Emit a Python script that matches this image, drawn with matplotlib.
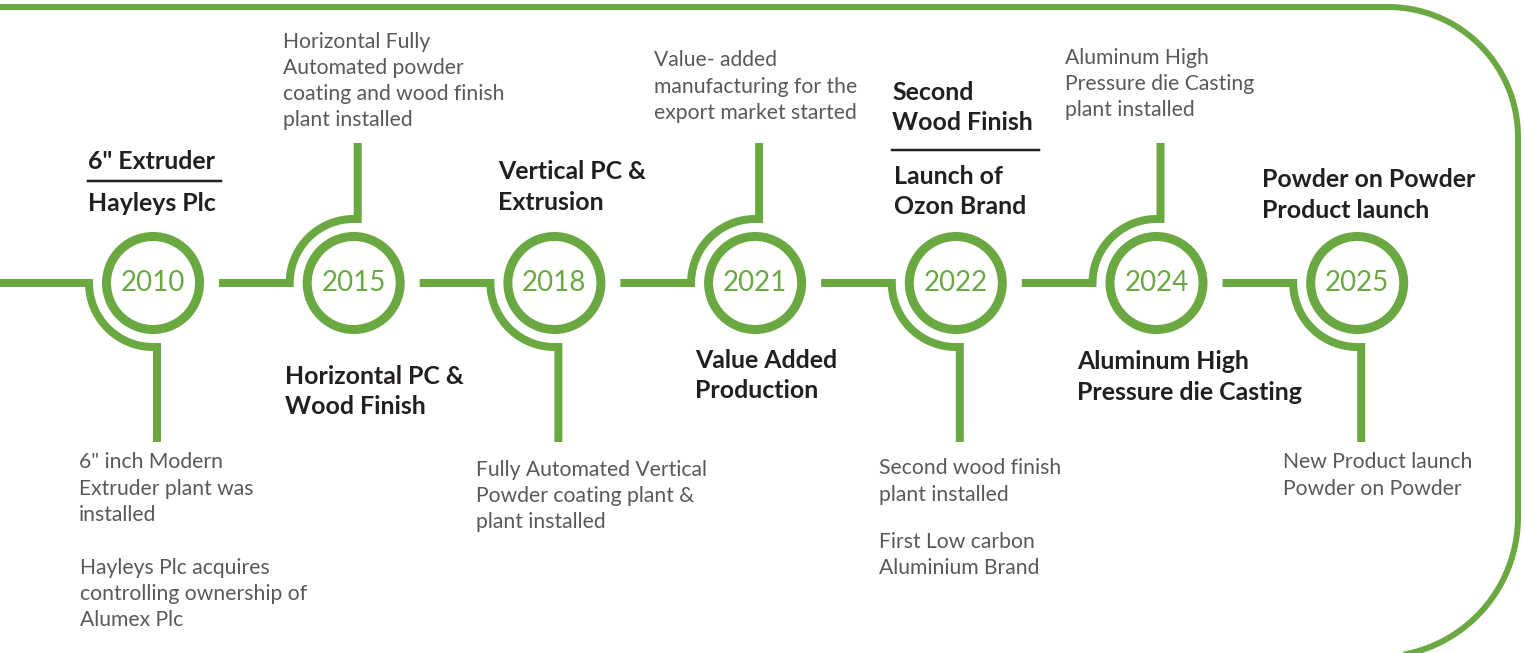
import numpy as np
import matplotlib.pyplot as plt

# timeline content
years = ['2010', '2015', '2018', '2021', '2022', '2024', '2025']
stem_up = [False, True, False, True, False, True, False]

headlines = [
    [['6" Extruder'], ['Hayleys Plc']],
    [['Horizontal PC &', 'Wood Finish']],
    [['Vertical PC &', 'Extrusion']],
    [['Value Added', 'Production']],
    [['Second', 'Wood Finish'], ['Launch of', 'Ozon Brand']],
    [['Aluminum High', 'Pressure die Casting']],
    [['Powder on Powder', 'Product launch']],
]
details = [
    [['6" inch Modern', 'Extruder plant was', 'installed'],
     ['Hayleys Plc acquires', 'controlling ownership of', 'Alumex Plc']],
    [['Horizontal Fully', 'Automated powder', 'coating and wood finish', 'plant installed']],
    [['Fully Automated Vertical', 'Powder coating plant &', 'plant installed']],
    [['Value- added', 'manufacturing for the', 'export market started']],
    [['Second wood finish', 'plant installed'], ['First Low carbon', 'Aluminium Brand']],
    [['Aluminum High', 'Pressure die Casting', 'plant installed']],
    [['New Product launch', 'Powder on Powder']],
]

# layout in pixels (x of block, y of first line centre)
head_pos = [[(88, 160), (88, 202)], [(285, 375)], [(498, 170)], [(695, 359)],
            [(892, 91), (894, 175)], [(1077, 360)], [(1262, 178)]]
rules = [(88, 221, 181), None, None, None, (892, 1039, 150), None, None]
detail_pos = [[(79, 461), (80, 566)], [(283, 40)], [(476, 468)], [(654, 59)],
              [(879, 467), (879, 540)], [(1065, 56)], [(1283, 461)]]

GREEN = '#6aa842'
DARK = '#231f20'
GREY = '#58595b'
W, H = 1525, 653
PX = 72 / 100  # points per pixel

x0, step, cy = 153, 200.7, 283
R_ring, R_arc = 46.5, 64
stem_top, stem_bot = 143, 442

fig = plt.figure(figsize=(W / 100, H / 100), dpi=100)
ax = fig.add_axes([0, 0, 1, 1])
ax.set_xlim(0, W)
ax.set_ylim(H, 0)
ax.axis('off')

# outer rounded frame
Rt, Rb, xr, yt, yb = 130, 140, 1518, 7, 657
t = np.linspace(np.pi / 2, 0, 40)
fx = [0, xr - Rt] + list(xr - Rt + Rt * np.cos(t)) + [xr]
fy = [yt, yt] + list(yt + Rt - Rt * np.sin(t)) + [yb - Rb]
t2 = np.linspace(0, -np.pi / 2, 40)
fx += list(xr - Rb + Rb * np.cos(t2)) + [0]
fy += list(yb - Rb - Rb * np.sin(t2)) + [yb]
ax.plot(fx, fy, color=GREEN, lw=6 * PX, solid_joinstyle='round')

for i, yr in enumerate(years):
    cx = x0 + i * step
    # connector: horizontal line, arc round the ring, stem
    start = 0 if i == 0 else x0 + (i - 1) * step + 66
    sgn = -1 if stem_up[i] else 1
    a = np.linspace(np.pi, np.pi / 2, 50)
    px = [start] + list(cx + R_arc * np.cos(a)) + [cx + 4, cx + 4]
    py = [cy] + list(cy + sgn * R_arc * np.sin(a)) + [cy + sgn * R_arc,
                                                       stem_top if stem_up[i] else stem_bot]
    ax.plot(px, py, color=GREEN, lw=8 * PX, solid_joinstyle='miter',
            solid_capstyle='butt')
    ax.add_patch(plt.Circle((cx, cy), R_ring, fill=False, ec=GREEN, lw=9 * PX))
    ax.text(cx, cy, yr, color=GREEN, fontsize=20, family='Lato',
            ha='center', va='center')

    for block, (bx, by) in zip(headlines[i], head_pos[i]):
        for k, line in enumerate(block):
            ax.text(bx, by + k * 30.5 + 9, line, color=DARK, fontsize=17.9,
                    family='Lato', weight='bold', ha='left', va='baseline')
    if rules[i]:
        rx0, rx1, ry = rules[i]
        ax.plot([rx0, rx1], [ry, ry], color=DARK, lw=2.5 * PX)

    for block, (bx, by) in zip(details[i], detail_pos[i]):
        for k, line in enumerate(block):
            ax.text(bx, by + k * 26.3 + 7.5, line, color=GREY, fontsize=15.2,
                    family='Lato', ha='left', va='baseline')

fig.savefig('out.png', dpi=100)
